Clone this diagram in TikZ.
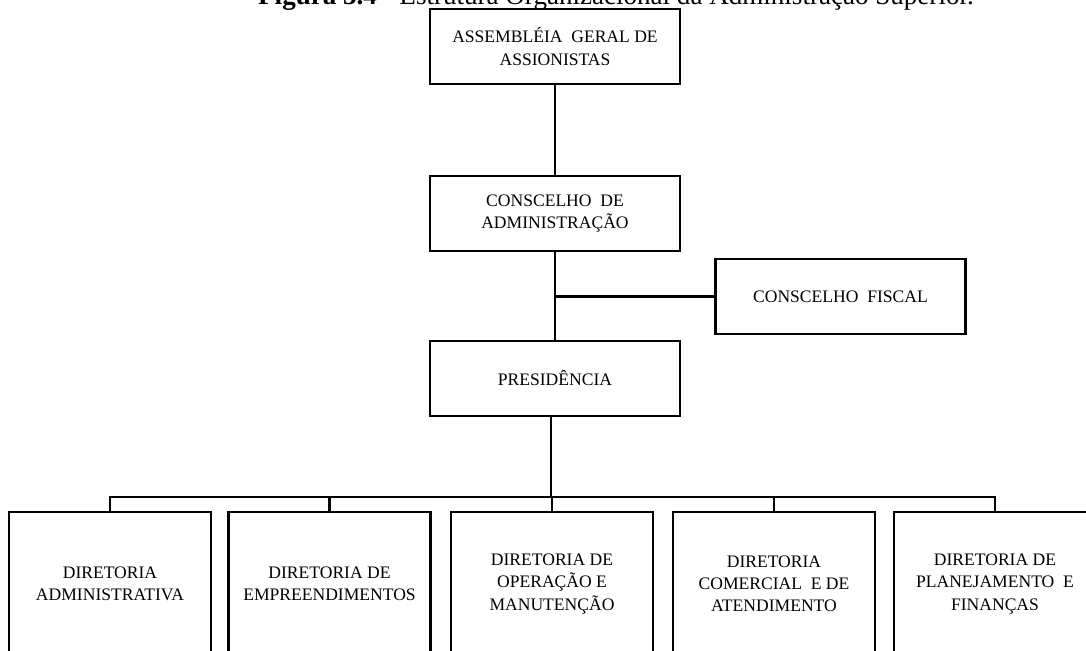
\documentclass[tikz,border=0pt]{standalone}
\usepackage{fontspec}
\setmainfont{Liberation Serif}
\begin{document}
\begin{tikzpicture}[x=0.02cm, y=-0.02cm,
    every node/.style={font=\fontsize{10}{12.6}\selectfont, align=center, inner sep=0pt},
    box/.style={draw, line width=1.6pt, minimum width=5cm, minimum height=1.5cm},
    dir/.style={draw, line width=1.6pt, minimum width=4.04cm, minimum height=2.88cm},
    link/.style={line width=1.6pt}]
    \clip (0,0) rectangle (1086,650);

    \node[anchor=base, font=\fontsize{15.4}{17}\selectfont] (fig) at (616,4.5)
        {\textbf{Figura 3.4} - Estrutura Organizacional da Administração Superior.};

    \node[box] (asm) at (555,46.5) {ASSEMBLÉIA~ GERAL DE\\ASSIONISTAS};
    \node[box] (cad) at (555,213.5) {CONSCELHO~ DE\\ADMINISTRAÇÃO};
    \node[box] (cfi) at (840.5,296.5) {CONSCELHO~ FISCAL};
    \node[box] (pres) at (555,378.5) {PRESIDÊNCIA};

    \node[dir] (d1) at (110,584) {DIRETORIA\\ADMINISTRATIVA};
    \node[dir] (d2) at (329.5,584) {DIRETORIA DE\\EMPREENDIMENTOS};
    \node[dir] (d3) at (552,584) {DIRETORIA DE\\OPERAÇÃO E\\MANUTENÇÃO};
    \node[dir] (d4) at (774,584) {DIRETORIA\\COMERCIAL~ E DE\\ATENDIMENTO};
    \node[dir] (d5) at (995,584) {DIRETORIA DE\\PLANEJAMENTO~ E\\FINANÇAS};

    \coordinate (bus) at (551,497);

    \draw[link] (asm) -- (cad);
    \draw[link] (cad) -- (pres);
    \draw[link] (cfi.west) -- (cfi.west -| cad.south);
    \draw[link] (pres.south -| bus) -- (bus);
    \draw[link, line cap=rect] (d1.north |- bus) -- (d5.north |- bus);
    \foreach \d in {d1,d2,d3,d4,d5}
        \draw[link] (\d.north) -- (\d.north |- bus);
\end{tikzpicture}
\end{document}
